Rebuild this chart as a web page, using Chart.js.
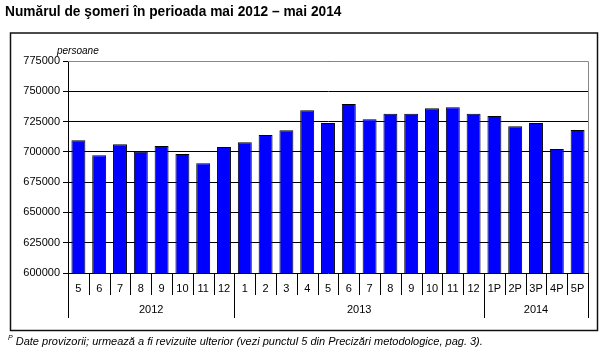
<!DOCTYPE html>
<html>
<head>
<meta charset="utf-8">
<script src="https://cdn.jsdelivr.net/npm/chart.js@4/dist/chart.umd.min.js"></script>
<style>
	body { margin: 0; background: #fff; }
	#wrap { position: relative; width: 602px; height: 354px; font-family: "Liberation Sans", Arial, sans-serif; }
	#title { position: absolute; left: 5px; top: 2px; font-size: 15px; font-weight: bold; color: #000; white-space: nowrap; transform: scaleX(0.915); transform-origin: left top; }
	#note { position: absolute; left: 8px; top: 334px; font-size: 11px; font-style: italic; color: #000; white-space: nowrap; }
	#note sup { font-size: 7px; }
	canvas { position: absolute; left: 0; top: 0; }
</style>
</head>
<body>
<div id="wrap">
	<canvas id="c" width="602" height="354"></canvas>
	<div id="title">Numărul de şomeri în perioada mai 2012 – mai 2014</div>
	<div id="note"><sup>P</sup> Date provizorii; urmează a fi revizuite ulterior (vezi punctul 5 din Precizări metodologice, pag. 3).</div>
</div>
<script>
// month labels, one per bar
var months = ['5', '6', '7', '8', '9', '10', '11', '12',
	'1', '2', '3', '4', '5', '6', '7', '8', '9', '10', '11', '12',
	'1P', '2P', '3P', '4P', '5P'];
// number of unemployed persons
var unemployed = [709500, 697200, 706200, 700100, 704800, 698200, 690600, 704000,
	707900, 713900, 717800, 734300, 723800, 739500, 726900, 731500, 731500, 736000, 736800, 731500,
	729600, 721100, 723800, 702400, 718000];
// year groups under the months
var years = ['2012', '2013', '2014'];
var yearMonths = [8, 12, 5];
var yMin = 600000;
var yMax = 775000;
var yStep = 25000;

// draws the outer frame, the plot border, the month separators and the year labels
var decorations = {
	id: 'decorations',
	afterDraw: function(chart) {
		var ctx = chart.ctx;
		var a = chart.chartArea;
		var x = chart.scales.x;
		var w = x.getPixelForValue(1) - x.getPixelForValue(0);
		var start = x.getPixelForValue(0) - w / 2;
		ctx.save();
		// outer frame
		ctx.strokeStyle = '#111';
		ctx.lineWidth = 1.5;
		ctx.strokeRect(10.5, 33, 587, 297.5);
		// top and right border of the plot
		ctx.strokeStyle = '#888';
		ctx.lineWidth = 1;
		ctx.beginPath();
		ctx.moveTo(a.left, a.top + 0.5);
		ctx.lineTo(a.right + 0.5, a.top + 0.5);
		ctx.lineTo(a.right + 0.5, a.bottom);
		ctx.stroke();
		// separators
		var bounds = [0];
		var acc = 0;
		for (var k = 0; k < yearMonths.length; k++) {
			acc += yearMonths[k];
			bounds.push(acc);
		}
		ctx.strokeStyle = '#000';
		ctx.beginPath();
		for (var i = 0; i <= months.length; i++) {
			var px = Math.round(start + i * w) + 0.5;
			var end = bounds.indexOf(i) >= 0 ? 318 : 295;
			ctx.moveTo(px, a.bottom);
			ctx.lineTo(px, end);
		}
		ctx.stroke();
		// year labels
		ctx.fillStyle = '#000';
		ctx.font = '11px "Liberation Sans", Arial, sans-serif';
		ctx.textAlign = 'center';
		ctx.textBaseline = 'middle';
		for (var j = 0; j < years.length; j++) {
			var cx = start + (bounds[j] + bounds[j + 1]) / 2 * w;
			ctx.fillText(years[j], cx, 310);
		}
		// unit label
		ctx.font = 'italic 10px "Liberation Sans", Arial, sans-serif';
		ctx.textAlign = 'left';
		ctx.fillText('persoane', 57, 51);
		ctx.restore();
	}
};

var ctx = document.getElementById('c');
new Chart(ctx, {
	type: 'bar',
	data: {
		labels: months,
		datasets: [{
			data: unemployed,
			backgroundColor: '#0000ff',
			borderColor: '#000',
			borderWidth: 1,
			categoryPercentage: 1,
			barPercentage: 0.67
		}]
	},
	options: {
		responsive: false,
		animation: false,
		layout: {
			padding: { top: 61, right: 14, bottom: 0, left: 0 }
		},
		plugins: {
			legend: { display: false },
			tooltip: { enabled: false }
		},
		scales: {
			x: {
				grid: { display: false },
				border: { display: false },
				ticks: {
					color: '#000',
					padding: 1,
					maxRotation: 0,
					autoSkip: false,
					font: { family: '"Liberation Sans", Arial, sans-serif', size: 11 }
				},
				afterFit: function(s) { s.height = 81; }
			},
			y: {
				min: yMin,
				max: yMax,
				ticks: {
					stepSize: yStep,
					color: '#000',
					padding: 3,
					font: { family: '"Liberation Sans", Arial, sans-serif', size: 11 },
					callback: function(v) { return String(v); }
				},
				grid: {
					color: '#000',
					lineWidth: 1,
					tickLength: 5,
					tickColor: '#000'
				},
				border: { display: true, color: '#000' },
				afterFit: function(s) { s.width = 68; }
			}
		}
	},
	plugins: [decorations]
});
</script>
</body>
</html>
